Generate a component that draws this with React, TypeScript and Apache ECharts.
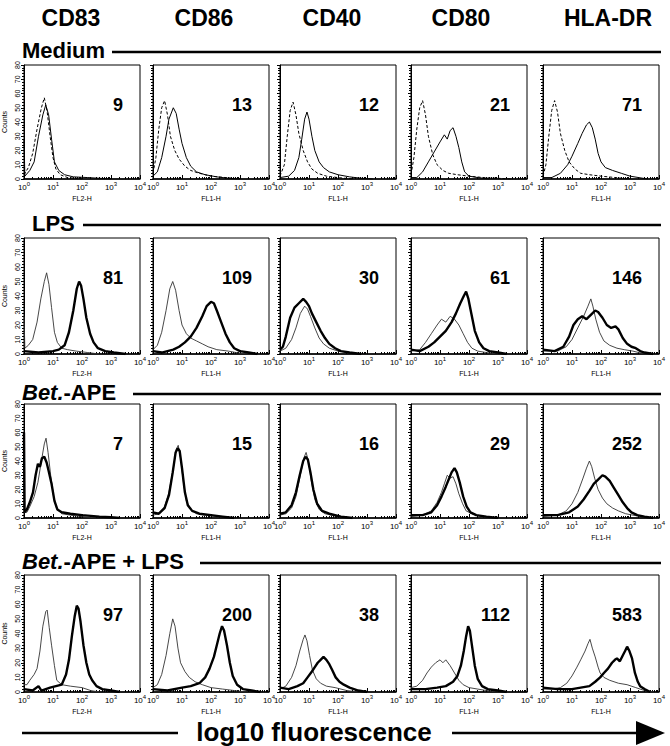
import React, { useEffect, useRef } from "react";
import * as echarts from "echarts";

const FONT = '"Liberation Sans", Arial, Helvetica, sans-serif';

const markers = ["CD83", "CD86", "CD40", "CD80", "HLA-DR"];
const conditions = ["Medium", "LPS", "Bet.-APE", "Bet.-APE + LPS"];
const channelNames = ["FL2-H", "FL1-H", "FL1-H", "FL1-H", "FL1-H"];
const decadeTicks = [0, 1, 2, 3, 4];
const countTicks = [0, 10, 20, 30, 40, 50, 60, 70, 80];

const mfiMedium = [9, 13, 12, 21, 71];
const mfiLPS = [81, 109, 30, 61, 146];
const mfiBet = [7, 15, 16, 29, 252];
const mfiBetLPS = [97, 200, 38, 112, 583];

// curves: [log10 fluorescence, counts]
// Medium: isotype (dashed) and stain (solid)
const medCD83Iso = [[0, 3], [0.15, 8], [0.3, 18], [0.45, 35], [0.6, 50], [0.7, 57], [0.8, 47], [0.9, 30], [1.0, 15], [1.1, 7], [1.25, 3], [1.5, 1], [2, 0]];
const medCD83 = [[0, 28], [0.03, 2], [0.2, 6], [0.35, 12], [0.5, 30], [0.65, 45], [0.75, 52], [0.85, 45], [0.95, 28], [1.05, 12], [1.2, 6], [1.4, 3], [1.7, 1.5], [2.2, 1], [2.6, 0.5], [3, 0]];
const medCD86Iso = [[0, 4], [0.1, 15], [0.2, 35], [0.3, 50], [0.4, 55], [0.5, 45], [0.6, 30], [0.75, 20], [0.9, 14], [1.1, 9], [1.3, 6], [1.6, 4], [2, 2], [2.5, 1], [3, 0]];
const medCD86 = [[0, 2], [0.15, 5], [0.3, 15], [0.45, 30], [0.55, 42], [0.7, 50], [0.8, 46], [0.9, 35], [1.0, 25], [1.15, 15], [1.3, 9], [1.5, 5], [1.8, 3], [2.2, 1.5], [2.6, 0.5], [3, 0]];
const medCD40Iso = [[0, 2], [0.15, 10], [0.25, 30], [0.35, 48], [0.45, 54], [0.55, 45], [0.65, 32], [0.8, 20], [0.95, 12], [1.1, 7], [1.3, 4], [1.6, 2], [2, 1], [2.5, 0]];
const medCD40 = [[0, 1], [0.3, 2], [0.5, 6], [0.65, 15], [0.75, 28], [0.85, 42], [0.93, 47], [1.0, 42], [1.1, 30], [1.2, 20], [1.35, 12], [1.5, 8], [1.7, 5], [2.0, 3], [2.4, 1.5], [2.8, 0.5], [3.2, 0]];
const medCD80Iso = [[0, 3], [0.1, 15], [0.2, 35], [0.3, 50], [0.4, 55], [0.5, 45], [0.6, 30], [0.75, 17], [0.9, 10], [1.1, 6], [1.3, 4], [1.6, 3], [2, 2], [2.5, 1], [3, 0.5], [3.5, 0]];
const medCD80 = [[0, 1], [0.2, 1], [0.4, 5], [0.6, 12], [0.8, 19], [1.0, 26], [1.15, 31], [1.25, 28], [1.35, 34], [1.45, 36], [1.55, 30], [1.65, 22], [1.75, 12], [1.85, 5], [2.0, 2], [2.3, 1], [2.7, 0]];
const medHLAIso = [[0, 2], [0.1, 10], [0.2, 30], [0.3, 48], [0.4, 55], [0.5, 47], [0.6, 32], [0.75, 20], [0.9, 12], [1.1, 7], [1.3, 4], [1.6, 3], [2, 2], [2.5, 1], [3, 0]];
const medHLA = [[0, 1], [0.3, 1], [0.6, 4], [0.85, 10], [1.0, 16], [1.2, 25], [1.35, 32], [1.5, 38], [1.6, 40], [1.7, 36], [1.8, 28], [1.9, 18], [2.0, 12], [2.15, 8], [2.4, 6], [2.7, 4], [3.0, 2], [3.3, 1], [3.6, 0]];

// LPS: medium stain (thin) and LPS stain (thick)
const lpsCD83Ctrl = [[0, 26], [0.03, 4], [0.15, 6], [0.3, 10], [0.45, 22], [0.58, 38], [0.7, 50], [0.78, 56], [0.86, 48], [0.95, 32], [1.05, 15], [1.15, 8], [1.3, 4], [1.5, 3], [1.8, 2], [2.2, 1], [2.6, 0]];
const lpsCD83 = [[0, 2], [0.5, 1], [1.0, 2], [1.2, 3], [1.4, 6], [1.55, 15], [1.7, 30], [1.82, 45], [1.9, 50], [1.97, 47], [2.05, 38], [2.15, 25], [2.28, 14], [2.4, 8], [2.55, 4], [2.8, 2], [3.1, 1], [3.5, 0]];
const lpsCD86Ctrl = [[0, 3], [0.15, 6], [0.3, 15], [0.45, 30], [0.58, 45], [0.68, 50], [0.78, 44], [0.9, 30], [1.0, 20], [1.15, 14], [1.3, 11], [1.5, 9], [1.7, 7], [1.9, 5], [2.2, 3], [2.6, 2], [3, 0.5], [3.3, 0]];
const lpsCD86 = [[0, 2], [0.3, 1], [0.7, 3], [0.9, 5], [1.1, 8], [1.3, 12], [1.5, 18], [1.7, 26], [1.85, 33], [2.0, 36], [2.1, 35], [2.2, 30], [2.35, 22], [2.5, 14], [2.65, 8], [2.8, 4], [3.0, 2], [3.3, 1], [3.6, 0]];
const lpsCD40Ctrl = [[0, 2], [0.2, 4], [0.4, 10], [0.55, 18], [0.7, 28], [0.85, 33], [0.95, 31], [1.05, 26], [1.2, 18], [1.35, 11], [1.5, 7], [1.7, 4], [2.0, 2], [2.4, 1], [2.8, 0]];
const lpsCD40 = [[0, 3], [0.1, 5], [0.2, 12], [0.35, 25], [0.5, 32], [0.65, 35], [0.8, 38], [0.9, 36], [1.0, 33], [1.1, 28], [1.25, 22], [1.4, 16], [1.55, 11], [1.7, 7], [1.9, 4], [2.1, 2], [2.4, 1], [2.8, 0]];
const lpsCD80Ctrl = [[0, 2], [0.3, 3], [0.5, 8], [0.7, 14], [0.9, 20], [1.05, 24], [1.2, 22], [1.35, 26], [1.5, 24], [1.65, 20], [1.8, 14], [1.95, 8], [2.1, 4], [2.3, 2], [2.6, 1], [3, 0]];
const lpsCD80 = [[0, 3], [0.3, 2], [0.6, 5], [0.8, 8], [1.0, 12], [1.2, 16], [1.4, 22], [1.55, 28], [1.7, 35], [1.82, 40], [1.9, 43], [1.98, 38], [2.08, 28], [2.2, 16], [2.35, 8], [2.5, 4], [2.7, 2], [3, 1], [3.3, 0]];
const lpsHLACtrl = [[0, 2], [0.5, 2], [0.8, 5], [1.0, 10], [1.2, 18], [1.4, 26], [1.55, 33], [1.65, 38], [1.72, 33], [1.82, 24], [1.95, 15], [2.1, 9], [2.3, 6], [2.55, 4], [2.8, 3], [3.1, 2], [3.4, 0.5], [3.7, 0]];
const lpsHLA = [[0, 3], [0.4, 2], [0.7, 5], [0.9, 12], [1.05, 20], [1.2, 24], [1.35, 26], [1.5, 24], [1.65, 27], [1.8, 30], [1.9, 29], [2.05, 25], [2.2, 20], [2.35, 18], [2.5, 19], [2.6, 17], [2.75, 11], [2.9, 7], [3.05, 5], [3.2, 4], [3.35, 2], [3.5, 1], [3.8, 0]];

// Bet.-APE
const betCD83Ctrl = [[0, 4], [0.1, 4], [0.2, 8], [0.35, 15], [0.48, 25], [0.6, 40], [0.7, 52], [0.76, 56], [0.83, 46], [0.92, 30], [1.02, 15], [1.12, 7], [1.3, 3], [1.6, 2], [2, 1], [2.5, 0]];
const betCD83 = [[0, 60], [0.02, 4], [0.1, 6], [0.2, 11], [0.31, 18], [0.4, 30], [0.48, 38], [0.55, 36], [0.62, 42], [0.7, 43], [0.78, 39], [0.85, 33], [0.95, 24], [1.05, 12], [1.15, 6], [1.3, 4], [1.6, 3], [2.0, 2], [2.6, 1], [3.0, 0.5], [3.3, 0]];
const betCD86Ctrl = [[0, 2], [0.2, 3], [0.4, 8], [0.55, 18], [0.7, 35], [0.8, 48], [0.87, 51], [0.95, 42], [1.05, 25], [1.15, 12], [1.3, 6], [1.5, 3], [1.8, 2], [2.2, 1], [2.6, 0]];
const betCD86 = [[0, 4], [0.2, 3], [0.4, 7], [0.55, 16], [0.68, 32], [0.78, 46], [0.85, 49], [0.92, 47], [1.0, 35], [1.1, 18], [1.2, 9], [1.35, 5], [1.6, 3], [2, 2], [2.4, 1], [2.8, 0]];
const betCD40Ctrl = [[0, 2], [0.2, 3], [0.4, 7], [0.55, 15], [0.7, 30], [0.82, 42], [0.9, 46], [0.98, 40], [1.08, 26], [1.2, 13], [1.35, 6], [1.55, 3], [1.9, 1.5], [2.3, 0.5], [2.7, 0]];
const betCD40 = [[0, 3], [0.2, 4], [0.4, 9], [0.55, 18], [0.68, 30], [0.8, 40], [0.88, 43], [0.96, 41], [1.05, 32], [1.15, 20], [1.28, 10], [1.45, 5], [1.7, 3], [2.1, 1], [2.5, 0]];
const betCD80Ctrl = [[0, 1], [0.4, 2], [0.7, 5], [0.9, 11], [1.05, 18], [1.15, 24], [1.25, 30], [1.35, 28], [1.45, 29], [1.55, 24], [1.65, 17], [1.78, 10], [1.9, 5], [2.1, 3], [2.4, 1], [2.8, 0]];
const betCD80 = [[0, 2], [0.4, 2], [0.7, 4], [0.9, 9], [1.05, 15], [1.2, 22], [1.3, 27], [1.4, 32], [1.5, 35], [1.58, 32], [1.68, 25], [1.8, 15], [1.92, 8], [2.05, 4], [2.25, 2], [2.6, 1], [3, 0]];
const betHLACtrl = [[0, 1], [0.5, 2], [0.8, 5], [1.0, 10], [1.2, 18], [1.38, 28], [1.5, 35], [1.6, 40], [1.68, 36], [1.78, 28], [1.9, 20], [2.05, 14], [2.2, 10], [2.4, 7], [2.6, 5], [2.85, 3], [3.1, 2], [3.4, 1], [3.7, 0]];
const betHLA = [[0, 2], [0.5, 2], [0.9, 4], [1.2, 8], [1.4, 13], [1.6, 19], [1.75, 24], [1.9, 27], [2.05, 30], [2.15, 29], [2.3, 26], [2.45, 21], [2.6, 16], [2.75, 11], [2.9, 7], [3.05, 4], [3.25, 2], [3.5, 1], [3.8, 0]];

// Bet.-APE + LPS
const blCD83Ctrl = [[0, 5], [0.1, 5], [0.2, 8], [0.35, 12], [0.45, 16], [0.55, 28], [0.65, 45], [0.75, 55], [0.8, 56], [0.87, 44], [0.95, 32], [1.05, 18], [1.13, 8], [1.3, 5], [1.6, 4], [2.0, 3], [2.3, 1], [2.6, 0]];
const blCD83 = [[0, 2], [0.3, 1], [0.5, 4], [0.6, 1], [0.9, 3], [1.1, 4], [1.3, 5], [1.45, 12], [1.55, 22], [1.65, 38], [1.75, 52], [1.82, 59], [1.88, 57], [1.95, 48], [2.05, 32], [2.15, 20], [2.25, 12], [2.35, 8], [2.5, 4], [2.7, 2], [3.0, 1], [3.3, 0]];
const blCD86Ctrl = [[0, 3], [0.15, 5], [0.3, 12], [0.45, 25], [0.58, 40], [0.68, 50], [0.76, 45], [0.86, 30], [0.95, 20], [1.1, 14], [1.25, 10], [1.45, 7], [1.7, 5], [2.0, 3], [2.4, 2], [2.8, 1], [3.2, 0]];
const blCD86 = [[0, 2], [0.5, 1], [1.0, 3], [1.3, 4], [1.6, 6], [1.8, 10], [1.95, 16], [2.1, 24], [2.2, 32], [2.3, 40], [2.38, 45], [2.45, 42], [2.55, 32], [2.65, 20], [2.75, 11], [2.9, 5], [3.1, 2], [3.4, 1], [3.7, 0]];
const blCD40Ctrl = [[0, 2], [0.2, 4], [0.4, 10], [0.55, 18], [0.68, 28], [0.8, 36], [0.86, 39], [0.93, 35], [1.02, 25], [1.12, 15], [1.25, 9], [1.4, 6], [1.6, 4], [1.9, 3], [2.3, 1], [2.7, 0]];
const blCD40 = [[0, 3], [0.3, 2], [0.6, 4], [0.8, 6], [0.95, 10], [1.1, 14], [1.2, 17], [1.3, 20], [1.4, 22], [1.5, 24], [1.6, 22], [1.7, 19], [1.8, 15], [1.92, 10], [2.05, 7], [2.2, 5], [2.4, 3], [2.7, 1], [3.0, 0]];
const blCD80Ctrl = [[0, 3], [0.2, 4], [0.4, 8], [0.55, 13], [0.7, 17], [0.85, 20], [1.0, 22], [1.1, 20], [1.2, 22], [1.35, 18], [1.5, 13], [1.65, 8], [1.8, 5], [2.0, 3], [2.3, 2], [2.6, 1], [3, 0]];
const blCD80 = [[0, 2], [0.5, 2], [0.9, 3], [1.2, 4], [1.45, 7], [1.6, 11], [1.72, 18], [1.82, 28], [1.9, 38], [1.97, 45], [2.03, 42], [2.1, 32], [2.2, 18], [2.3, 9], [2.45, 4], [2.65, 2], [3, 1], [3.3, 0]];
const blHLACtrl = [[0, 2], [0.3, 2], [0.6, 3], [0.82, 6], [1.0, 11], [1.17, 17], [1.3, 22], [1.45, 28], [1.55, 33], [1.62, 36], [1.7, 30], [1.8, 24], [1.9, 17], [1.97, 13], [2.1, 10], [2.3, 8], [2.6, 6], [2.9, 5], [3.2, 3], [3.5, 1], [3.8, 0]];
const blHLA = [[0, 3], [0.5, 2], [1.0, 2], [1.3, 3], [1.6, 4], [1.8, 7], [1.97, 10], [2.1, 13], [2.24, 16], [2.38, 20], [2.48, 22], [2.55, 23], [2.65, 21], [2.75, 25], [2.83, 28], [2.9, 31], [2.98, 28], [3.07, 23], [3.17, 13], [3.27, 7], [3.35, 4], [3.5, 2], [3.7, 0]];

const panelCurves = [
  [[medCD83Iso, medCD83], [medCD86Iso, medCD86], [medCD40Iso, medCD40], [medCD80Iso, medCD80], [medHLAIso, medHLA]],
  [[lpsCD83Ctrl, lpsCD83], [lpsCD86Ctrl, lpsCD86], [lpsCD40Ctrl, lpsCD40], [lpsCD80Ctrl, lpsCD80], [lpsHLACtrl, lpsHLA]],
  [[betCD83Ctrl, betCD83], [betCD86Ctrl, betCD86], [betCD40Ctrl, betCD40], [betCD80Ctrl, betCD80], [betHLACtrl, betHLA]],
  [[blCD83Ctrl, blCD83], [blCD86Ctrl, blCD86], [blCD40Ctrl, blCD40], [blCD80Ctrl, blCD80], [blHLACtrl, blHLA]],
];
const panelMfi = [mfiMedium, mfiLPS, mfiBet, mfiBetLPS];

// layout
const colLeft = [24, 153, 280, 411, 543];
const panelW = 116;
const rowTop = [65, 238, 404, 575];
const rowH = [114, 116, 114, 117];
const headerX = [71, 204, 332, 461, 608];
const titleY = [50, 223, 392, 561];
const titleX = [22, 32, 22, 22];
const titleLineStart = [112, 83, 133, 200];

const minorDecadeTicks: number[] = [];
for (let d = 0; d < 4; d++) {
  for (let k = 2; k <= 9; k++) minorDecadeTicks.push(d + Math.log10(k));
}

function buildOption() {
  const grid: any[] = [];
  const xAxis: any[] = [];
  const yAxis: any[] = [];
  const series: any[] = [];
  const graphic: any[] = [];

  markers.forEach((m, c) => {
    graphic.push({
      type: "text",
      x: headerX[c],
      y: 18,
      style: { text: m, font: `bold 23px ${FONT}`, fill: "#000", textAlign: "center", textVerticalAlign: "middle" },
    });
  });

  conditions.forEach((cond, r) => {
    const isBet = cond.startsWith("Bet.");
    const rest = cond.slice(4);
    graphic.push({
      type: "text",
      x: titleX[r],
      y: titleY[r],
      style: isBet
        ? {
            text: `{i|Bet.}{n|${rest}}`,
            rich: {
              i: { fontStyle: "italic", fontWeight: "bold", fontSize: 22, fontFamily: FONT, fill: "#000" },
              n: { fontWeight: "bold", fontSize: 22, fontFamily: FONT, fill: "#000" },
            },
            textAlign: "left",
            textVerticalAlign: "middle",
          }
        : { text: cond, font: `bold 22px ${FONT}`, fill: "#000", textAlign: "left", textVerticalAlign: "middle" },
    });
    graphic.push({
      type: "line",
      shape: { x1: titleLineStart[r], y1: titleY[r] + 2, x2: 661, y2: titleY[r] + 2 },
      style: { stroke: "#000", lineWidth: 2.5 },
    });

    markers.forEach((_, c) => {
      const gi = r * 5 + c;
      grid.push({
        left: colLeft[c],
        top: rowTop[r],
        width: panelW,
        height: rowH[r],
        show: true,
        borderColor: "#000",
        borderWidth: 1,
        backgroundColor: "#fff",
      });
      xAxis.push({
        type: "value",
        gridIndex: gi,
        min: 0,
        max: 4,
        interval: 1,
        name: channelNames[c],
        nameLocation: "middle",
        nameGap: 16,
        nameTextStyle: { fontSize: 7, fontFamily: FONT, color: "#000" },
        axisLine: { show: true, onZero: false, lineStyle: { color: "#000", width: 1.6 } },
        axisTick: { show: true, inside: true, length: 4, lineStyle: { color: "#000" } },
        axisLabel: {
          show: true,
          margin: 2,
          formatter: (v: number) => (decadeTicks.includes(v) ? `{b|10}{s|${v}}` : ""),
          rich: {
            b: { fontSize: 8, lineHeight: 12, fontFamily: FONT, color: "#000" },
            s: { fontSize: 6, lineHeight: 6, verticalAlign: "top", fontFamily: FONT, color: "#000" },
          },
        },
        splitLine: { show: false },
      });
      xAxis.push({
        type: "value",
        gridIndex: gi,
        min: 0,
        max: 4,
        position: "bottom",
        axisLine: { show: false },
        axisTick: { show: true, inside: true, length: 2, customValues: minorDecadeTicks, lineStyle: { color: "#000" } },
        axisLabel: { show: false },
        splitLine: { show: false },
      });
      yAxis.push({
        type: "value",
        gridIndex: gi,
        min: 0,
        max: 80,
        interval: 10,
        name: c === 0 ? "Counts" : "",
        nameLocation: "middle",
        nameRotate: 90,
        nameGap: 16,
        nameTextStyle: { fontSize: 7, fontFamily: FONT, color: "#000" },
        axisLine: { show: true, lineStyle: { color: "#000", width: 1 } },
        axisTick: { show: true, length: 3, lineStyle: { color: "#000" } },
        minorTick: { show: true, splitNumber: 5, length: 2, lineStyle: { color: "#000" } },
        axisLabel: {
          show: c === 0,
          rotate: 90,
          margin: 3,
          fontSize: 7,
          fontFamily: FONT,
          color: "#000",
          formatter: (v: number) => (countTicks.includes(v) ? String(v) : ""),
        },
        splitLine: { show: false },
      });

      const [ctrl, stain] = panelCurves[r][c];
      const first = r === 0;
      series.push({
        type: "line",
        xAxisIndex: gi * 2,
        yAxisIndex: gi,
        data: ctrl,
        showSymbol: false,
        silent: true,
        lineStyle: first
          ? { color: "#000", width: 1, type: [3, 2] }
          : { color: "#333", width: 0.9 },
      });
      series.push({
        type: "line",
        xAxisIndex: gi * 2,
        yAxisIndex: gi,
        data: stain,
        showSymbol: false,
        silent: true,
        lineStyle: first ? { color: "#000", width: 1 } : { color: "#000", width: 2.4 },
      });

      graphic.push({
        type: "text",
        x: colLeft[c] + panelW - 17,
        y: rowTop[r] + 40,
        z: 100,
        style: {
          text: String(panelMfi[r][c]),
          font: `bold 18px ${FONT}`,
          fill: "#000",
          textAlign: "right",
          textVerticalAlign: "middle",
        },
      });
    });
  });

  // bottom arrow and label
  graphic.push({
    type: "text",
    x: 314,
    y: 732,
    style: { text: "log10 fluorescence", font: `bold 26px ${FONT}`, fill: "#000", textAlign: "center", textVerticalAlign: "middle" },
  });
  graphic.push({ type: "line", shape: { x1: 22, y1: 733, x2: 178, y2: 733 }, style: { stroke: "#000", lineWidth: 2.5 } });
  graphic.push({ type: "line", shape: { x1: 452, y1: 733, x2: 640, y2: 733 }, style: { stroke: "#000", lineWidth: 2.5 } });
  graphic.push({
    type: "polygon",
    shape: { points: [[636, 721], [665, 733], [636, 745]] },
    style: { fill: "#000" },
  });

  return {
    animation: false,
    backgroundColor: "#fff",
    textStyle: { fontFamily: FONT },
    grid,
    xAxis,
    yAxis,
    series,
    graphic,
  };
}

export default function App() {
  const ref = useRef<HTMLDivElement>(null);
  useEffect(() => {
    document.body.style.margin = "0";
    if (!ref.current) return;
    const chart = echarts.init(ref.current, undefined, { renderer: "svg" });
    chart.setOption(buildOption() as any);
    return () => chart.dispose();
  }, []);
  return <div ref={ref} style={{ width: 670, height: 746 }} />;
}
